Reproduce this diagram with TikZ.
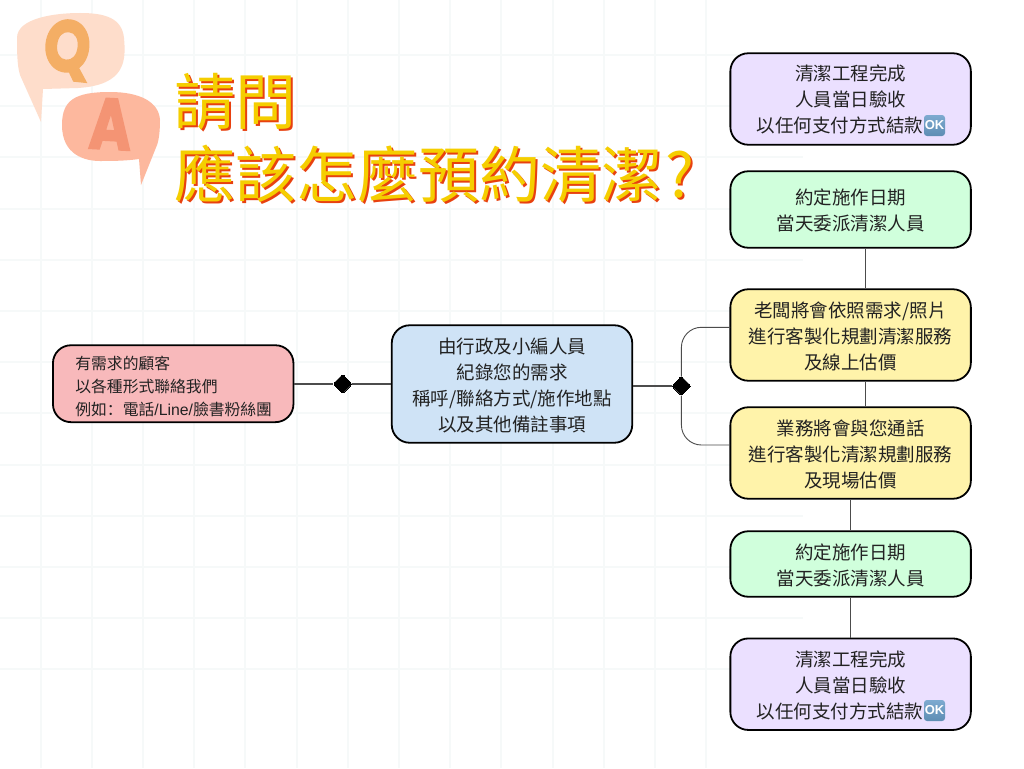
\documentclass[tikz,border=0pt]{standalone}
\usepackage{fontspec}
\usetikzlibrary{shapes.geometric}
\setmainfont{Noto Sans CJK TC}
\newfontfamily\latfont{Liberation Sans}
\newfontfamily\scfont{Noto Sans CJK SC}
\newfontfamily\headfont[BoldFeatures={FakeBold=2.5}]{Poppins}
\definecolor{gridc}{HTML}{F6F9F9}
\definecolor{ink}{HTML}{222222}
\definecolor{purplebox}{HTML}{EBE0FF}
\definecolor{greenbox}{HTML}{D0FFDC}
\definecolor{yellowbox}{HTML}{FFF3AA}
\definecolor{bluebox}{HTML}{CFE3F6}
\definecolor{pinkbox}{HTML}{F8B9BB}
\definecolor{titley}{HTML}{F5CE00}
\definecolor{titler}{HTML}{E8410F}
\definecolor{qbub}{HTML}{FEDDCB}
\definecolor{abub}{HTML}{FDB89E}
\definecolor{qlet}{HTML}{F4AE65}
\definecolor{alet}{HTML}{F49474}
\definecolor{oktop}{HTML}{7DAAD0}
\definecolor{okbot}{HTML}{5E8DB3}
\newcommand{\shadowtitle}[1]{\makebox[0pt][l]{\hspace{2.2pt}\raisebox{-2.2pt}{\textcolor{titler}{#1}}}\textcolor{titley}{#1}}
\newcommand{\tl}{\rule{0pt}{18.5pt}}
\tikzset{
  x=1pt,y=-1pt,
  gridline/.style={gridc,line width=2pt},
  flowbox/.style={draw=black,line width=1.8pt,rounded corners=18pt,minimum width=240.5pt,inner sep=0pt,align=center,text=ink,font=\fontsize{18.5}{26}\selectfont},
  link/.style={draw=black!70,line width=1.1pt},
  thinlink/.style={draw=black!70,line width=0.9pt},
  knob/.style={diamond,fill=black,draw=black,line width=0pt,inner sep=0pt,minimum size=19pt,rounded corners=2pt},
  okmark/.style={top color=oktop,bottom color=okbot,rounded corners=3pt,minimum width=21pt,minimum height=21pt,inner sep=0pt,text=white,font=\latfont\bfseries\fontsize{13}{13}\selectfont},
  titletext/.style={anchor=west,inner sep=0pt,font=\fontsize{61}{61}\selectfont},
  letter/.style={inner sep=0pt,font=\headfont\bfseries\fontsize{72}{72}\selectfont}
}
\begin{document}
\begin{tikzpicture}
\useasboundingbox (0,0) rectangle (1024,768);
\fill[white] (0,0) rectangle (1024,768);
% background grid
\foreach \k in {0,...,12}{
  \draw[gridline] (0,55+51.2*\k) -- (803,55+51.2*\k);
}
\foreach \k in {0,...,13}{
  \draw[gridline] (40.5+51.2*\k,0) -- (40.5+51.2*\k,768);
}
% speech bubbles
\fill[qbub] (17,38) .. controls (17,18) and (55,13) .. (80,13) .. controls (105,13) and (122,18) .. (124,38)
  .. controls (126,60) and (126,85) .. (78,88) -- (43,89) -- (41,122) -- (20,75) .. controls (17,65) and (17,50) .. (17,38) -- cycle;
\fill[abub] (62,125) .. controls (62,100) and (75,92) .. (110,92) .. controls (140,92) and (159,102) .. (160,120)
  .. controls (160,130) and (159,140) .. (157,145) -- (141,185) -- (139,159) .. controls (125,161) and (110,161) .. (100,161)
  .. controls (85,161) and (62,155) .. (62,125) -- cycle;
\node[letter,text=qlet,rotate=-6,xscale=0.82] (qmark) at (67,50) {Q};
\node[letter,text=alet,rotate=-3,xscale=0.8] (amark) at (110.5,124) {A};
% title
\node[titletext] (t1) at (174,103) {\shadowtitle{請問}};
\node[titletext] (t2) at (174,175) {\shadowtitle{應該怎麼預約清潔\kern3pt ?}};
% boxes
\node[flowbox,fill=purplebox,minimum height=91.5pt] (p1) at (850.6,99) {\rule{0pt}{16.5pt}清潔工程完成\\人員當日驗收\\以任何支付方式結款\rule{21pt}{0pt}};
\node[flowbox,fill=greenbox,minimum height=76.5pt] (g1) at (850.6,209.5) {\tl 約定施作日期\\當天委派清潔人員};
\node[flowbox,fill=yellowbox,minimum height=91.5pt] (y1) at (850.6,335) {\tl 老闆將會依照需求/照片\\進行客製化規劃清潔服務\\及線上估價};
\node[flowbox,fill=yellowbox,minimum height=91.5pt] (y2) at (850.6,453) {\tl 業務將會與您通話\\進行客製化清潔規劃服務\\及現場估價};
\node[flowbox,fill=greenbox,minimum height=65.5pt] (g2) at (850.6,564) {\tl 約定施作日期\\當天委派清潔人員};
\node[flowbox,fill=purplebox,minimum height=91.5pt] (p2) at (850.6,684.2) {\tl 清潔工程完成\\人員當日驗收\\以任何支付方式結款\rule{21pt}{0pt}};
\node[flowbox,fill=bluebox,minimum height=117.5pt] (blue) at (512,384) {\tl 由行政及小編人員\\紀錄您的需求\\稱呼/聯絡方式/施作地點\\以及其他備註事項};
\node[flowbox,fill=pinkbox,minimum width=240.5pt,minimum height=76.5pt,align=left,font=\fontsize{15.8}{23}\selectfont] (pink) at (173.2,383.7) {\hspace{1pt}\begin{tabular}{@{}l@{}}\rule{0pt}{24pt}有需求的顧客\\以各種形式聯絡我們\\例如{\scfont\symbol{"FF1A}}電話{\latfont /Line/}臉書粉絲團\end{tabular}};
\node[okmark] (ok1) at (934.5,125.5) {OK};
\node[okmark] (ok2) at (934.5,710.5) {OK};
% connectors
\coordinate (xa) at (865,0);
\coordinate (xb) at (850.7,0);
\coordinate (y1in) at (730,327.3);
\coordinate (y2in) at (730,445);
\node[knob] (d1) at (342.7,384) {};
\node[knob] (d2) at (681.4,386) {};
\draw[link] (pink.east |- d1) -- (d1);
\draw[link] (d1) -- (blue.west |- d1);
\draw[link] (blue.east |- d2) -- (d2);
\draw[thinlink,rounded corners=20pt] (d2.north) |- (y1in);
\draw[thinlink,rounded corners=20pt] (d2.south) |- (y2in);
\draw[thinlink] (g1.south -| xa) -- (y1.north -| xa);
\draw[thinlink] (y1.south -| xa) -- (y2.north -| xa);
\draw[thinlink] (y2.south -| xb) -- (g2.north -| xb);
\draw[thinlink] (g2.south -| xb) -- (p2.north -| xb);
\end{tikzpicture}
\end{document}
